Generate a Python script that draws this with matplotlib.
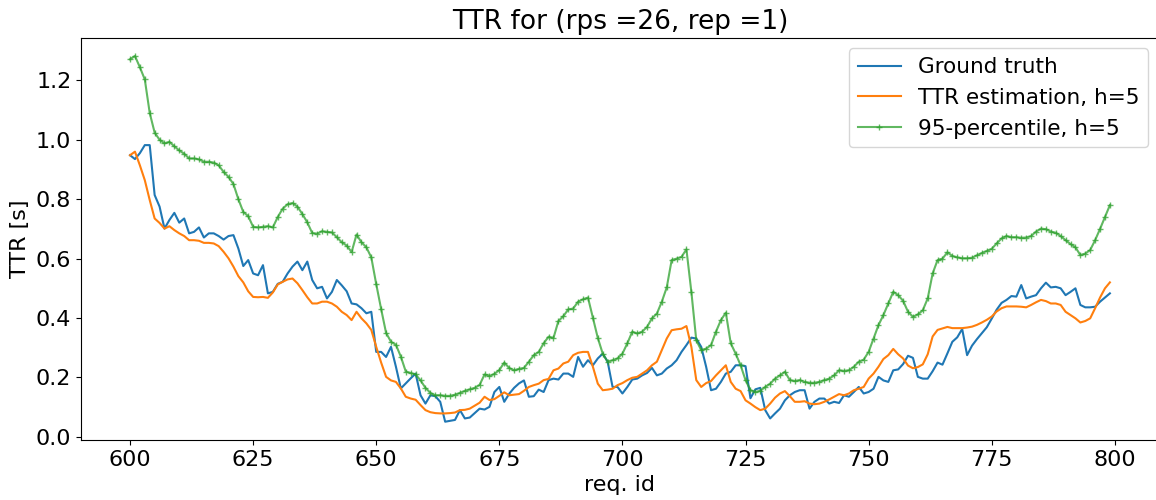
import matplotlib

matplotlib.use("Agg")

import matplotlib.pyplot as plt  # noqa: E402
import numpy as np  # noqa: E402

# request ids 600..799
req_ids = np.arange(600, 800)

ground_truth = [
    0.948, 0.935, 0.955, 0.982, 0.982, 0.814, 0.775, 0.701, 0.730, 0.754,
    0.721, 0.735, 0.685, 0.690, 0.705, 0.671, 0.685, 0.685, 0.676, 0.664,
    0.676, 0.679, 0.634, 0.575, 0.595, 0.550, 0.544, 0.578, 0.483, 0.488,
    0.515, 0.522, 0.550, 0.573, 0.590, 0.561, 0.590, 0.528, 0.500, 0.505,
    0.466, 0.488, 0.528, 0.510, 0.490, 0.449, 0.446, 0.433, 0.416, 0.421,
    0.286, 0.286, 0.269, 0.303, 0.236, 0.163, 0.180, 0.197, 0.213, 0.140,
    0.112, 0.140, 0.137, 0.118, 0.051, 0.054, 0.057, 0.090, 0.062, 0.065,
    0.080, 0.095, 0.092, 0.101, 0.151, 0.168, 0.118, 0.145, 0.165, 0.180,
    0.190, 0.135, 0.137, 0.159, 0.151, 0.191, 0.196, 0.193, 0.213, 0.213,
    0.202, 0.269, 0.236, 0.258, 0.241, 0.264, 0.280, 0.253, 0.168, 0.168,
    0.146, 0.168, 0.193, 0.196, 0.207, 0.215, 0.232, 0.207, 0.213, 0.230,
    0.241, 0.258, 0.286, 0.309, 0.334, 0.331, 0.303, 0.236, 0.157, 0.162,
    0.185, 0.213, 0.219, 0.241, 0.241, 0.238, 0.130, 0.160, 0.165, 0.090,
    0.062, 0.079, 0.095, 0.123, 0.140, 0.151, 0.157, 0.157, 0.095, 0.118,
    0.129, 0.129, 0.112, 0.118, 0.114, 0.140, 0.135, 0.151, 0.168, 0.146,
    0.151, 0.162, 0.202, 0.190, 0.185, 0.224, 0.227, 0.245, 0.273, 0.266,
    0.202, 0.196, 0.196, 0.221, 0.250, 0.243, 0.281, 0.320, 0.335, 0.363,
    0.275, 0.307, 0.329, 0.349, 0.369, 0.398, 0.428, 0.451, 0.461, 0.474,
    0.472, 0.511, 0.466, 0.472, 0.477, 0.500, 0.519, 0.503, 0.505, 0.500,
    0.477, 0.488, 0.500, 0.444, 0.436, 0.436, 0.438, 0.455, 0.469, 0.483,
]

ttr_estimation = [
    0.948, 0.960, 0.914, 0.864, 0.797, 0.735, 0.720, 0.701, 0.709, 0.696,
    0.685, 0.676, 0.662, 0.662, 0.660, 0.653, 0.653, 0.651, 0.642, 0.623,
    0.601, 0.573, 0.541, 0.520, 0.490, 0.471, 0.470, 0.471, 0.468, 0.486,
    0.513, 0.522, 0.530, 0.533, 0.517, 0.494, 0.470, 0.449, 0.449, 0.455,
    0.455, 0.449, 0.438, 0.421, 0.410, 0.393, 0.421, 0.399, 0.382, 0.360,
    0.303, 0.250, 0.202, 0.190, 0.185, 0.163, 0.135, 0.129, 0.125, 0.107,
    0.090, 0.083, 0.080, 0.079, 0.079, 0.080, 0.082, 0.090, 0.091, 0.095,
    0.105, 0.115, 0.135, 0.124, 0.127, 0.138, 0.150, 0.140, 0.142, 0.144,
    0.155, 0.168, 0.174, 0.179, 0.191, 0.195, 0.224, 0.230, 0.247, 0.253,
    0.275, 0.283, 0.286, 0.286, 0.236, 0.179, 0.157, 0.159, 0.162, 0.174,
    0.181, 0.191, 0.199, 0.202, 0.213, 0.224, 0.241, 0.253, 0.292, 0.331,
    0.359, 0.362, 0.364, 0.373, 0.303, 0.191, 0.168, 0.181, 0.188, 0.207,
    0.224, 0.241, 0.185, 0.162, 0.154, 0.123, 0.112, 0.100, 0.090, 0.095,
    0.112, 0.132, 0.146, 0.154, 0.137, 0.118, 0.118, 0.120, 0.112, 0.110,
    0.112, 0.118, 0.126, 0.135, 0.144, 0.140, 0.146, 0.157, 0.162, 0.168,
    0.196, 0.213, 0.236, 0.262, 0.275, 0.296, 0.278, 0.264, 0.240, 0.231,
    0.235, 0.244, 0.278, 0.338, 0.360, 0.365, 0.370, 0.366, 0.366, 0.366,
    0.368, 0.371, 0.377, 0.385, 0.394, 0.405, 0.422, 0.433, 0.439, 0.439,
    0.439, 0.438, 0.436, 0.444, 0.453, 0.461, 0.457, 0.449, 0.449, 0.444,
    0.421, 0.410, 0.399, 0.385, 0.390, 0.399, 0.433, 0.469, 0.500, 0.520,
]

percentile_95 = [
    1.271, 1.282, 1.244, 1.203, 1.090, 1.024, 1.000, 0.988, 0.993, 0.978,
    0.964, 0.953, 0.937, 0.937, 0.934, 0.926, 0.926, 0.923, 0.914, 0.892,
    0.875, 0.851, 0.800, 0.757, 0.743, 0.707, 0.705, 0.707, 0.709, 0.705,
    0.740, 0.768, 0.783, 0.787, 0.775, 0.750, 0.722, 0.686, 0.684, 0.692,
    0.690, 0.688, 0.672, 0.655, 0.644, 0.622, 0.681, 0.655, 0.638, 0.604,
    0.514, 0.430, 0.350, 0.320, 0.310, 0.270, 0.220, 0.215, 0.210, 0.190,
    0.165, 0.148, 0.140, 0.140, 0.138, 0.138, 0.142, 0.148, 0.155, 0.160,
    0.165, 0.175, 0.210, 0.205, 0.212, 0.225, 0.250, 0.232, 0.224, 0.229,
    0.232, 0.253, 0.275, 0.286, 0.315, 0.337, 0.333, 0.390, 0.406, 0.429,
    0.432, 0.455, 0.463, 0.469, 0.401, 0.333, 0.280, 0.253, 0.258, 0.264,
    0.280, 0.315, 0.354, 0.348, 0.354, 0.370, 0.399, 0.415, 0.455, 0.503,
    0.595, 0.600, 0.606, 0.631, 0.488, 0.325, 0.292, 0.297, 0.309, 0.354,
    0.393, 0.418, 0.315, 0.280, 0.241, 0.191, 0.157, 0.151, 0.155, 0.168,
    0.179, 0.196, 0.207, 0.219, 0.191, 0.188, 0.191, 0.185, 0.182, 0.182,
    0.185, 0.191, 0.196, 0.207, 0.224, 0.222, 0.224, 0.236, 0.253, 0.260,
    0.286, 0.331, 0.376, 0.410, 0.449, 0.488, 0.477, 0.458, 0.421, 0.404,
    0.412, 0.426, 0.466, 0.550, 0.595, 0.600, 0.621, 0.609, 0.604, 0.601,
    0.601, 0.603, 0.611, 0.619, 0.626, 0.633, 0.651, 0.668, 0.676, 0.672,
    0.672, 0.670, 0.671, 0.676, 0.691, 0.701, 0.699, 0.691, 0.687, 0.676,
    0.662, 0.649, 0.638, 0.612, 0.617, 0.629, 0.662, 0.700, 0.740, 0.780,
]

fig = plt.figure(figsize=(11.56, 5.0), dpi=100)
ax = fig.add_axes([0.0701, 0.12, 0.9324, 0.8046])

ax.plot(req_ids, ground_truth, color="tab:blue", lw=1.5, label="Ground truth")
ax.plot(req_ids, ttr_estimation, color="tab:orange", lw=1.5, label="TTR estimation, h=5")
ax.plot(req_ids, percentile_95, color="tab:green", lw=1.5, alpha=0.75,
        marker="+", markersize=5, label="95-percentile, h=5")

ax.set_title("TTR for (rps =26, rep =1)", fontsize=19)
ax.set_xlabel("req. id", fontsize=16)
ax.set_ylabel("TTR [s]", fontsize=16)
ax.tick_params(labelsize=16)
ax.legend(loc="upper right", fontsize=15.5)

fig.savefig("out.png", dpi=100)
